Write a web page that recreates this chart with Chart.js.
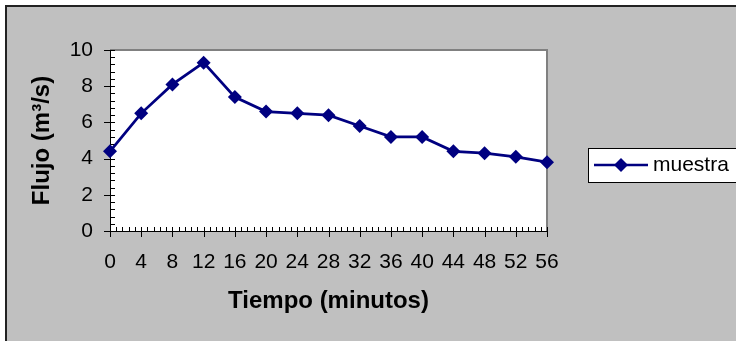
<!DOCTYPE html>
<html>
<head>
<meta charset="utf-8">
<script src="https://cdn.jsdelivr.net/npm/chart.js@4.4.1/dist/chart.umd.min.js"></script>
<style>
  body { margin: 0; background: #fff; }
  canvas { display: block; }
</style>
</head>
<body>
<canvas id="grafico" width="736" height="341"></canvas>
<script>
// tiempo en minutos y flujo medido
const tiempo = [0, 4, 8, 12, 16, 20, 24, 28, 32, 36, 40, 44, 48, 52, 56];
const flujo = [4.4, 6.5, 8.1, 9.3, 7.4, 6.6, 6.5, 6.4, 5.8, 5.2, 5.2, 4.4, 4.3, 4.1, 3.8];
const serie = 'muestra';

const azul = '#000080';
const gris = '#c0c0c0';

// fondo gris, marco del area de trazado y marcas menores como en Excel
const estiloExcel = {
  id: 'estiloExcel',
  beforeDraw(chart) {
    const { ctx, chartArea: { top, right, bottom, left } } = chart;
    ctx.save();
    ctx.fillStyle = '#fff';
    ctx.fillRect(0, 0, chart.width, chart.height);
    ctx.fillStyle = gris;
    ctx.fillRect(6, 6, chart.width, chart.height);
    ctx.fillStyle = '#222';
    ctx.fillRect(5, 5, chart.width, 2);
    ctx.fillRect(5, 5, 2, chart.height);
    ctx.fillStyle = '#fff';
    ctx.fillRect(left, top, right - left, bottom - top);
    ctx.restore();
  },
  beforeDatasetsDraw(chart) {
    const { ctx, chartArea: { top, right, bottom, left }, scales: { x, y } } = chart;
    ctx.save();
    // borde gris arriba y a la derecha
    ctx.strokeStyle = '#808080';
    ctx.lineWidth = 2;
    ctx.beginPath();
    ctx.moveTo(left, top);
    ctx.lineTo(right, top);
    ctx.lineTo(right, bottom);
    ctx.stroke();

    ctx.strokeStyle = '#000';
    ctx.lineWidth = 1;
    ctx.beginPath();
    // eje y: menores cada 0.4 hacia dentro, mayores cada 2 cruzando
    for (let i = 0; i <= 25; i++) {
      const py = Math.round(y.getPixelForValue(i * 0.4)) + 0.5;
      if (i % 5 === 0) {
        ctx.moveTo(left - 6, py);
        ctx.lineTo(left + 5, py);
      } else {
        ctx.moveTo(left, py);
        ctx.lineTo(left + 5, py);
      }
    }
    // eje x: menores cada 0.8 hacia dentro, mayores cada 4 cruzando
    for (let i = 0; i <= 70; i++) {
      const px = Math.round(x.getPixelForValue(i * 0.8)) + 0.5;
      if (i % 5 === 0) {
        ctx.moveTo(px, bottom - 4);
        ctx.lineTo(px, bottom + 6);
      } else {
        ctx.moveTo(px, bottom);
        ctx.lineTo(px, bottom - 4);
      }
    }
    ctx.stroke();
    ctx.restore();
  },
  afterDraw(chart) {
    const { ctx } = chart;
    ctx.save();
    // leyenda
    ctx.fillStyle = '#fff';
    ctx.fillRect(588, 148, 160, 34);
    ctx.strokeStyle = '#000';
    ctx.lineWidth = 1;
    ctx.strokeRect(588.5, 148.5, 160, 34);
    ctx.strokeStyle = azul;
    ctx.lineWidth = 2.5;
    ctx.beginPath();
    ctx.moveTo(594, 165);
    ctx.lineTo(648, 165);
    ctx.stroke();
    ctx.fillStyle = azul;
    ctx.beginPath();
    ctx.moveTo(621, 158);
    ctx.lineTo(628, 165);
    ctx.lineTo(621, 172);
    ctx.lineTo(614, 165);
    ctx.closePath();
    ctx.fill();
    ctx.fillStyle = '#000';
    ctx.font = '21px "Liberation Sans", Arial, sans-serif';
    ctx.textBaseline = 'middle';
    ctx.fillText(serie, 653, 165);
    ctx.restore();
  }
};

const ctx1 = document.getElementById('grafico');

new Chart(ctx1, {
  type: 'line',
  data: {
    datasets: [{
      label: serie,
      data: tiempo.map((t, i) => ({ x: t, y: flujo[i] })),
      borderColor: azul,
      backgroundColor: azul,
      borderWidth: 2.75,
      pointStyle: 'rectRot',
      pointRadius: 7,
      pointBorderWidth: 0,
      tension: 0,
      clip: false
    }]
  },
  options: {
    responsive: false,
    animation: false,
    layout: {
      padding: { left: 6, top: 50, right: 189, bottom: 0 }
    },
    plugins: {
      legend: { display: false },
      tooltip: { enabled: false }
    },
    scales: {
      x: {
        type: 'linear',
        min: 0,
        max: 56,
        grid: { display: false, drawTicks: false },
        border: { display: true, color: '#000', width: 1 },
        ticks: {
          stepSize: 4,
          padding: 19,
          color: '#000',
          font: { family: '"Liberation Sans", Arial, sans-serif', size: 21 }
        },
        title: {
          display: true,
          text: 'Tiempo (minutos)',
          color: '#000',
          padding: { top: 0, bottom: 25 },
          font: { family: '"Liberation Sans", Arial, sans-serif', size: 24, weight: 'bold' }
        },
        afterFit(scale) { scale.height = 110; }
      },
      y: {
        min: 0,
        max: 10,
        grid: { display: false, drawTicks: false },
        border: { display: true, color: '#000', width: 1 },
        ticks: {
          stepSize: 2,
          padding: 17,
          color: '#000',
          font: { family: '"Liberation Sans", Arial, sans-serif', size: 21 }
        },
        title: {
          display: true,
          text: 'Flujo (m³/s)',
          color: '#000',
          padding: { top: 22, bottom: 0 },
          font: { family: '"Liberation Sans", Arial, sans-serif', size: 24, weight: 'bold' }
        },
        afterFit(scale) { scale.width = 104; }
      }
    }
  },
  plugins: [estiloExcel]
});
</script>
</body>
</html>
